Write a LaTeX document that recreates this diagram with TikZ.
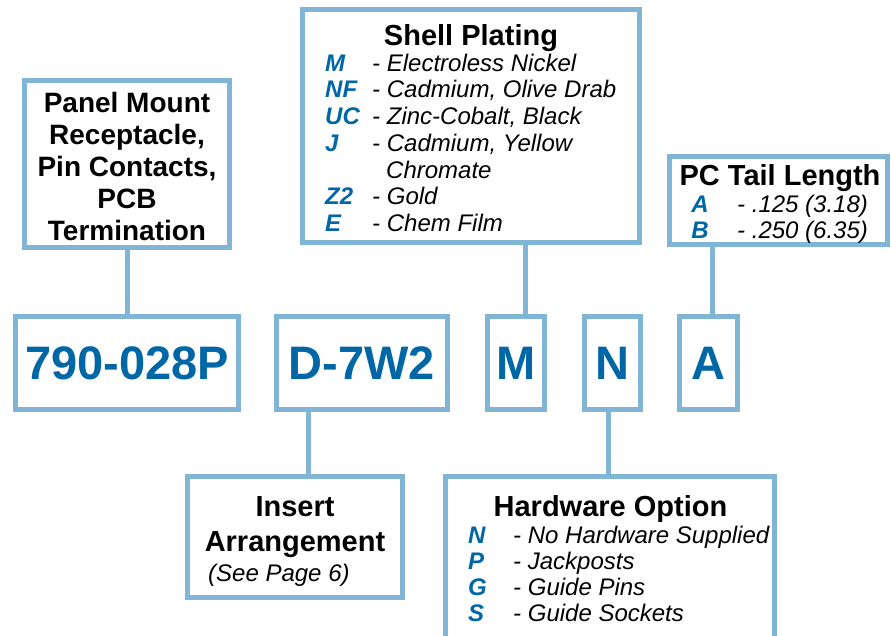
\documentclass[tikz,border=0pt]{standalone}
\usepackage{fontspec}
\setmainfont{Liberation Sans}
\definecolor{frameblue}{HTML}{80B5D6}
\definecolor{codeblue}{HTML}{0067A6}

\begin{document}
\begin{tikzpicture}[x=1pt,y=-1pt,
    box/.style={draw=frameblue,line width=5pt,fill=white,inner sep=0pt},
    lnk/.style={draw=frameblue,line width=5pt},
    big/.style={text=codeblue,font=\fontsize{47}{50}\selectfont\bfseries},
    ttl/.style={font=\fontsize{29}{31}\selectfont\bfseries,anchor=base,inner sep=0pt},
    cde/.style={text=codeblue,font=\fontsize{24}{26}\selectfont\bfseries\itshape,anchor=base west,inner sep=0pt},
    dsc/.style={font=\fontsize{24}{26}\selectfont\itshape,anchor=base west,inner sep=0pt}]
  \useasboundingbox (0,0) rectangle (891,636);
  \clip (0,0) rectangle (891,636);
  % part number
  \node[box,big,minimum width=223pt,minimum height=93pt] (pn) at (127,363) {790-028P};
  \node[box,big,minimum width=171pt,minimum height=93pt] (ins) at (362,363) {D-7W2};
  \node[box,big,minimum width=57pt,minimum height=93pt] (plat) at (516,363) {M};
  \node[box,big,minimum width=56pt,minimum height=93pt] (hw) at (612.5,363) {N};
  \node[box,big,minimum width=58pt,minimum height=93pt] (tail) at (708.5,363) {A};

  % series
  \node[box,minimum width=205pt,minimum height=167pt] (panel) at (127,164) {};
  \node[font=\fontsize{28}{32}\selectfont\bfseries,align=center,inner sep=0pt] (paneltxt) at (127,166)
    {Panel Mount\\Receptacle,\\Pin Contacts,\\PCB\\Termination};

  % shell plating
  \node[box,minimum width=337pt,minimum height=233pt] (shell) at (471,126) {};
  \node[ttl] (shellttl) at (471,46) {Shell Plating};
  \foreach \y/\c/\t [count=\i] in {72/M/Electroless Nickel,98/NF/{Cadmium, Olive Drab},
      125/UC/{Zinc-Cobalt, Black},152/J/{Cadmium, Yellow},205/Z2/Gold,232/E/Chem Film}{
    \node[cde] (sc\i) at (325,\y) {\c};
    \node[dsc] (sd\i) at (372,\y) {- \t};
  }
  \node[dsc] (sdj) at (386,179) {Chromate};

  % pc tail
  \node[box,minimum width=218pt,minimum height=88pt] (tailbox) at (778.5,200.5) {};
  \node[ttl] (tailttl) at (780,186) {PC Tail Length};
  \node[cde,anchor=base] (tc1) at (700,213) {A};
  \node[dsc] (td1) at (737,213) {- .125 (3.18)};
  \node[cde,anchor=base] (tc2) at (700,239) {B};
  \node[dsc] (td2) at (737,239) {- .250 (6.35)};

  % insert arrangement
  \node[box,minimum width=215pt,minimum height=121pt] (insbox) at (295,537) {};
  \node[ttl] (insttl1) at (295,516) {Insert};
  \node[ttl] (insttl2) at (295,551) {Arrangement};
  \node[dsc] (insnote) at (208,581) {(See Page 6)};

  % hardware
  \node[box,minimum width=329pt,minimum height=200pt] (hwbox) at (610,576.5) {};
  \node[ttl] (hwttl) at (610.5,516) {Hardware Option};
  \foreach \y/\c/\t [count=\i] in {543/N/No Hardware Supplied,569.3/P/Jackposts,
      595.6/G/Guide Pins,621.9/S/Guide Sockets}{
    \node[cde] (hc\i) at (468,\y) {\c};
    \node[dsc] (hd\i) at (513,\y) {- \t};
  }

  % links
  \coordinate (platup) at ([xshift=9pt]plat.north);
  \coordinate (tailup) at ([xshift=3.5pt]tail.north);
  \coordinate (insdn) at ([xshift=-54pt]ins.south);
  \coordinate (hwdn) at ([xshift=-4.5pt]hw.south);
  \draw[lnk] (panel.south) -- (pn.north);
  \draw[lnk] (platup) -- (platup |- shell.south);
  \draw[lnk] (tailup) -- (tailup |- tailbox.south);
  \draw[lnk] (insdn) -- (insdn |- insbox.north);
  \draw[lnk] (hwdn) -- (hwdn |- hwbox.north);
\end{tikzpicture}
\end{document}
